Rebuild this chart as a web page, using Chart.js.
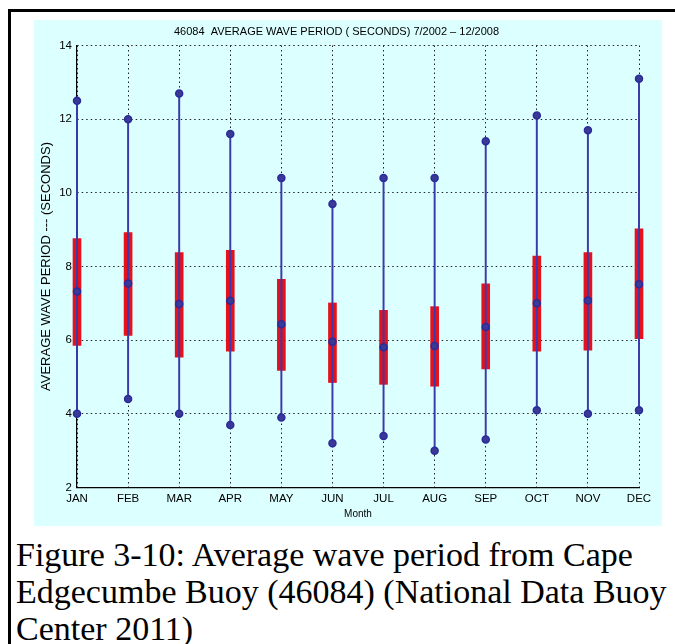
<!DOCTYPE html>
<html>
<head>
<meta charset="utf-8">
<script src="https://cdn.jsdelivr.net/npm/chart.js@4.4.1/dist/chart.umd.min.js"></script>
<style>
  html, body { margin: 0; padding: 0; background: #ffffff; overflow: hidden; }
  #frame {
    position: absolute; left: 8px; top: 9px; width: 700px; height: 700px;
    border-left: 3px solid #000; border-top: 3px solid #000;
  }
  #charto {
    position: absolute; left: 34px; top: 20px;
    background: #dcffff;
  }
  #caption {
    position: absolute; left: 16px; top: 536px; width: 660px;
    font-family: "Liberation Serif", "Times New Roman", serif;
    font-size: 34px; line-height: 37px; color: #000;
  }
</style>
</head>
<body>
<div id="frame"></div>
<canvas id="charto" width="628" height="506"></canvas>
<div id="caption">Figure 3-10: Average wave period from Cape<br>Edgecumbe Buoy (46084) (National Data Buoy<br>Center 2011)</div>
<script>
// datos (periodo medio de ola, segundos)
var months = ['JAN','FEB','MAR','APR','MAY','JUN','JUL','AUG','SEP','OCT','NOV','DEC'];
var maxVals = [12.5, 12.0, 12.7, 11.6, 10.4, 9.7, 10.4, 10.4, 11.4, 12.1, 11.7, 13.1];
var minVals = [4.0, 4.4, 4.0, 3.7, 3.9, 3.2, 3.4, 3.0, 3.3, 4.1, 4.0, 4.1];
var upperQ = [8.76, 8.92, 8.38, 8.44, 7.65, 7.01, 6.81, 6.91, 7.53, 8.28, 8.38, 9.02];
var lowerQ = [5.86, 6.13, 5.54, 5.70, 5.18, 4.85, 4.80, 4.75, 5.22, 5.70, 5.73, 6.04];
var medianVals = [7.32, 7.54, 6.98, 7.07, 6.43, 5.96, 5.81, 5.84, 6.36, 7.00, 7.08, 7.52];
var yTicks = [2, 4, 6, 8, 10, 12, 14];

var font = "'Liberation Sans', Arial, sans-serif";
var whiskers = months.map(function (m, i) { return [minVals[i], maxVals[i]]; });
var boxes = months.map(function (m, i) { return [lowerQ[i], upperQ[i]]; });

function markers(vals) {
  return {
    type: 'line', data: vals, showLine: false, clip: false,
    pointStyle: 'circle', pointRadius: 3.5, pointBorderWidth: 1.5,
    pointBorderColor: '#2a2a9c', pointBackgroundColor: '#3a3a96'
  };
}

var ctx = document.getElementById('charto').getContext('2d');
var mychart = new Chart(ctx, {
  type: 'bar',
  data: {
    labels: months,
    datasets: [
      markers(maxVals),
      markers(minVals),
      markers(medianVals),
      { data: whiskers, backgroundColor: '#3a3aaa', barThickness: 1.3, grouped: false, clip: false },
      { data: boxes, backgroundColor: '#e5121e', barThickness: 8, grouped: false, clip: false }
    ]
  },
  options: {
    responsive: false,
    animation: false,
    layout: { padding: { left: 0, right: 23, top: 0, bottom: 0 } },
    plugins: {
      legend: { display: false },
      tooltip: { enabled: false },
      title: {
        display: true,
        text: '46084  AVERAGE WAVE PERIOD ( SECONDS) 7/2002 \u2013 12/2008',
        color: '#000', font: { family: font, size: 11, weight: 'normal' },
        padding: { top: 5, bottom: 7.3 }
      }
    },
    scales: {
      x: {
        offset: false,
        grid: { offset: false, color: '#222', drawTicks: false, lineWidth: 1 },
        border: { display: true, color: '#000', width: 1.2, dash: [1.5, 3] },
        ticks: { color: '#000', padding: 4, font: { family: font, size: 11.5 } },
        title: { display: true, text: 'Month', color: '#000', font: { family: font, size: 10 }, padding: { top: 0, bottom: 6 } },
        afterFit: function (s) { s.height = 38.5; }
      },
      y: {
        min: 2, max: 14,
        afterBuildTicks: function (s) { s.ticks = yTicks.map(function (v) { return { value: v }; }); },
        grid: { color: '#222', drawTicks: false, lineWidth: 1 },
        border: { display: true, color: '#000', width: 1.2, dash: [1.5, 3] },
        ticks: { color: '#000', padding: 5, font: { family: font, size: 11.5 } },
        title: { display: true, text: 'AVERAGE WAVE PERIOD --- (SECONDS)', color: '#000', font: { family: font, size: 13 }, padding: { top: 5, bottom: 0 } },
        afterFit: function (s) { s.width = 43; }
      }
    }
  }
});
</script>
</body>
</html>
